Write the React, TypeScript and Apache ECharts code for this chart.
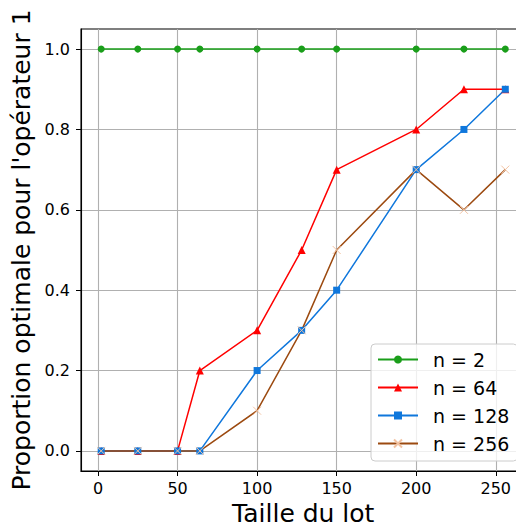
import React, { useEffect, useRef } from "react";
import * as echarts from "echarts";

const lotSizes = [2, 25, 50, 64, 100, 128, 150, 200, 230, 256];
const seriesNames = ["n = 2", "n = 64", "n = 128", "n = 256"];
const n2 = [1, 1, 1, 1, 1, 1, 1, 1, 1, 1];
const n64 = [0, 0, 0, 0.2, 0.3, 0.5, 0.7, 0.8, 0.9, 0.9];
const n128 = [0, 0, 0, 0, 0.2, 0.3, 0.4, 0.7, 0.8, 0.9];
const n256 = [0, 0, 0, 0, 0.1, 0.3, 0.5, 0.7, 0.6, 0.7];
const xTicks = [0, 50, 100, 150, 200, 250];
const yTicks = [0, 0.2, 0.4, 0.6, 0.8, 1.0];

const FONT = "DejaVu Sans";

export default function App() {
  const ref = useRef<HTMLDivElement>(null);
  useEffect(() => {
    const chart = echarts.init(ref.current!, null, { renderer: "svg" });
    const pair = (ys: number[]) => lotSizes.map((x, i) => [x, ys[i]]);
    const base = (name: string, color: string, symbol: string, size: number, ys: number[]) => ({
      name,
      type: "line",
      data: pair(ys),
      symbol,
      symbolSize: size,
      showAllSymbol: true,
      lineStyle: { color, width: 1.5 },
      itemStyle: { color },
      emphasis: { disabled: true },
    });
    const xSeries: any = base("n = 256", "#9c4a10", "path://M0 0L10 10M10 0L0 10", 8, n256);
    xSeries.itemStyle = { color: "rgba(0,0,0,0)", borderColor: "#f2c3a3", borderWidth: 1 };
    chart.setOption({
      animation: false,
      textStyle: { fontFamily: FONT },
      grid: {
        left: 81,
        top: 29,
        right: -9.5,
        bottom: 56,
        show: true,
        borderColor: "#000",
        borderWidth: 1.1,
        outerBoundsMode: "none",
        containLabel: false,
      },
      xAxis: {
        type: "value",
        min: -10.7,
        max: 268.7,
        splitNumber: 5,
        name: "Taille du lot",
        nameLocation: "middle",
        nameGap: 29,
        nameTextStyle: { fontSize: 25, color: "#000", fontFamily: FONT },
        axisLine: { show: true, onZero: false, lineStyle: { color: "#000", width: 1.1 } },
        axisTick: { show: true, customValues: xTicks, length: 5, lineStyle: { color: "#000" } },
        axisLabel: {
          customValues: xTicks,
          margin: 9,
          fontSize: 16,
          color: "#000",
          fontFamily: FONT,
          formatter: (v: number) => String(v),
        },
        splitLine: { show: true, lineStyle: { color: "#b0b0b0", width: 1.1 } },
      },
      yAxis: {
        type: "value",
        min: -0.05,
        max: 1.05,
        splitNumber: 5,
        name: "Proportion optimale pour l'opérateur 1",
        nameLocation: "middle",
        nameGap: 42,
        nameTextStyle: { fontSize: 25, color: "#000", fontFamily: FONT },
        axisLine: { show: true, onZero: false, lineStyle: { color: "#000", width: 1.1 } },
        axisTick: { show: true, customValues: yTicks, length: 5, lineStyle: { color: "#000" } },
        axisLabel: {
          customValues: yTicks,
          margin: 11,
          fontSize: 16,
          color: "#000",
          fontFamily: FONT,
          formatter: (v: number) => v.toFixed(1),
        },
        splitLine: { show: true, lineStyle: { color: "#b0b0b0", width: 1.1 } },
      },
      legend: {
        data: seriesNames,
        orient: "vertical",
        left: 371,
        top: 344,
        width: 144,
        padding: [6, 8, 8, 6],
        itemGap: 9,
        itemWidth: 40,
        itemHeight: 10,
        backgroundColor: "rgba(255,255,255,0.8)",
        borderColor: "#cccccc",
        borderWidth: 1,
        borderRadius: 4,
        textStyle: { fontSize: 19, color: "#000", fontFamily: FONT, padding: [0, 0, 0, 10], lineHeight: 19 },
      },
      series: [
        base("n = 2", "#1a9e1a", "circle", 7, n2),
        base("n = 64", "#ff0000", "triangle", 8, n64),
        base("n = 128", "#0f77dc", "rect", 7, n128),
        xSeries,
      ],
    });
    return () => chart.dispose();
  }, []);
  return <div ref={ref} style={{ width: 516, height: 527, position: "absolute", left: 0, top: 0 }} />;
}
